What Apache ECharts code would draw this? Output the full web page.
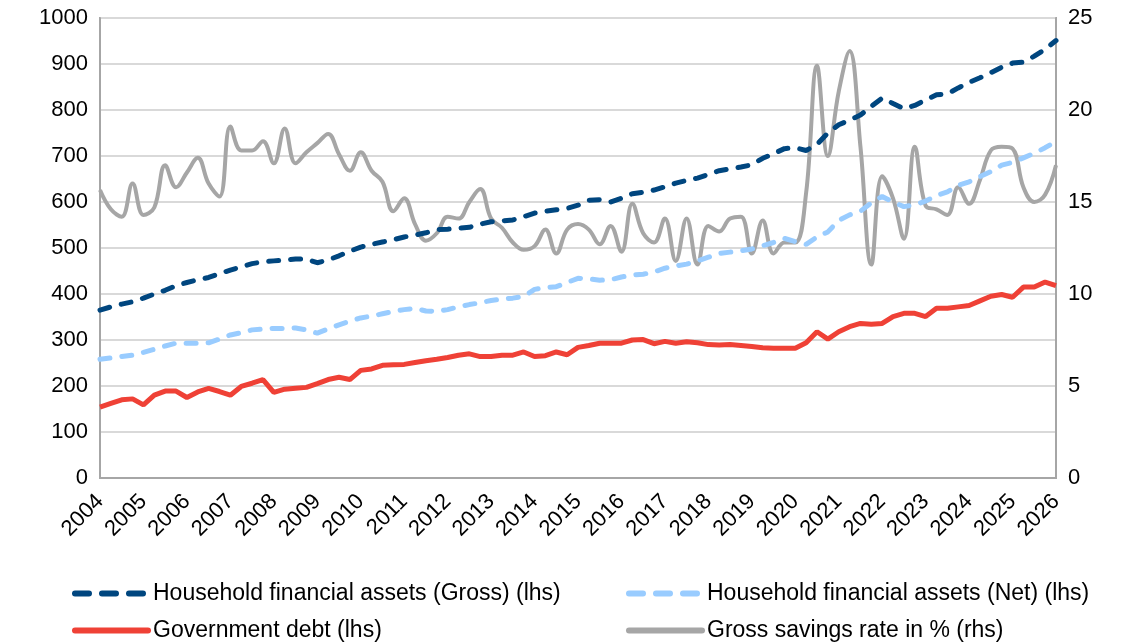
<!DOCTYPE html>
<html>
<head>
    <meta charset="UTF-8">
    <title>Household assets, government debt and savings rate</title>
    <script src="https://cdn.jsdelivr.net/npm/echarts@6/dist/echarts.min.js"></script>
    <style>
        html, body { margin: 0; padding: 0; background: #fff; }
        #chart { width: 1130px; height: 643px; }
    </style>
</head>
<body>
<div id="chart"></div>
<script>
    // years shown on the axis, data is quarterly from 2004Q1 to 2026Q1
    var years = [2004, 2005, 2006, 2007, 2008, 2009, 2010, 2011, 2012, 2013, 2014,
        2015, 2016, 2017, 2018, 2019, 2020, 2021, 2022, 2023, 2024, 2025, 2026];

    var grossAssets = [365, 372, 378, 383, 391, 400, 408, 418, 425, 431, 436, 444,
        452, 459, 466, 470, 472, 474, 476, 476, 468, 474, 483, 493,
        502, 508, 513, 518, 524, 528, 533, 540, 541, 543, 545, 552,
        557, 559, 561, 568, 576, 580, 583, 586, 593, 604, 605, 600,
        608, 618, 621, 626, 633, 641, 647, 652, 660, 668, 672, 676,
        681, 695, 705, 716, 718, 712, 725, 750, 768, 778, 789, 808,
        826, 814, 803, 810, 822, 833, 835, 848, 860, 870, 881, 893,
        902, 904, 917, 932, 951];

    var netAssets = [258, 261, 264, 267, 273, 280, 287, 293, 293, 293, 294, 302,
        311, 316, 322, 324, 325, 325, 326, 322, 315, 324, 333, 341,
        348, 352, 357, 362, 366, 369, 363, 362, 366, 372, 377, 381,
        386, 389, 391, 395, 410, 414, 416, 425, 434, 433, 430, 431,
        437, 441, 443, 448, 456, 461, 465, 472, 480, 488, 491, 494,
        498, 505, 512, 521, 514, 508, 524, 535, 560, 572, 580, 598,
        612, 600, 590, 594, 602, 614, 622, 636, 644, 655, 666, 680,
        686, 696, 706, 718, 732];

    var govDebt = [154, 162, 170, 172, 159, 180, 189, 189, 175, 187, 195, 188,
        180, 199, 206, 214, 186, 193, 195, 197, 205, 214, 219, 214,
        234, 237, 245, 246, 247, 251, 255, 258, 262, 267, 270, 264,
        264, 267, 267, 274, 264, 266, 274, 268, 284, 288, 293, 293,
        293, 300, 301, 292, 297, 293, 296, 294, 290, 289, 290, 288,
        286, 283, 282, 282, 282, 294, 318, 302, 318, 329, 336, 334,
        336, 351, 358, 358, 351, 369, 369, 372, 375, 385, 395, 399,
        393, 415, 415, 426, 418];

    var savingsRate = [15.65, 14.6, 14.2, 16.0, 14.3, 14.7, 17.0, 15.8, 16.6, 17.4, 16.0, 15.3,
        19.1, 17.8, 17.8, 18.3, 17.1, 19.0, 17.1, 17.7, 18.2, 18.7, 17.6, 16.7,
        17.7, 16.7, 16.1, 14.5, 15.2, 13.8, 12.9, 13.3, 14.2, 14.1, 15.0, 15.7,
        14.1, 13.6, 12.8, 12.4, 12.6, 13.5, 12.2, 13.5, 13.8, 13.5, 12.7, 13.7,
        12.3, 14.9, 13.3, 12.8, 14.1, 11.8, 14.1, 11.6, 13.7, 13.4, 14.1, 14.2,
        12.2, 14.0, 12.2, 12.8, 12.8, 15.5, 22.4, 17.5, 21.0, 23.2, 18.0, 11.6,
        16.4, 15.2, 13.0, 18.0, 14.8, 14.6, 14.3, 15.8, 14.9, 16.2, 17.8, 18.0,
        17.9, 15.8, 15.0, 15.4, 17.0];

    var quarters = [];
    years.forEach(function (y) {
        for (var q = 1; q <= 4; q++) {
            if (y === 2026 && q > 1) break;
            quarters.push(y + 'Q' + q);
        }
    });

    var font = 'Liberation Sans, Arial, sans-serif';
    var chart = echarts.init(document.getElementById('chart'));

    // one legend per entry so the 2x2 layout is fixed
    function legendItem(name, left, top, dashed) {
        return {
            left: left, top: top, padding: 0,
            itemWidth: 73, itemHeight: 20, itemGap: 0,
            itemStyle: { opacity: 0 },
            lineStyle: dashed ? { width: 6, type: [14, 13], cap: 'round' } : { width: 6, cap: 'round' },
            textStyle: { fontFamily: font, fontSize: 23, color: '#000' },
            data: [name]
        };
    }

    var option = {
        backgroundColor: '#fff',
        animation: false,
        grid: {
            left: 100, right: 74, top: 18, bottom: 165,
            show: true, borderColor: '#A6A6A6', borderWidth: 2
        },
        legend: [
            legendItem('Household financial assets (Gross) (lhs)', 72, 582, true),
            legendItem('Government debt (lhs)', 72, 619, false),
            legendItem('Household financial assets (Net) (lhs)', 626, 582, true),
            legendItem('Gross savings rate in % (rhs)', 626, 619, false)
        ],
        xAxis: {
            type: 'category',
            data: quarters,
            boundaryGap: false,
            axisLine: { lineStyle: { color: '#A6A6A6', width: 2 } },
            axisTick: { show: false },
            axisLabel: {
                interval: function (index) { return index % 4 === 0; },
                formatter: function (v) { return v.slice(0, 4); },
                rotate: 45,
                margin: 20,
                fontFamily: font, fontSize: 22, color: '#000'
            },
            splitLine: { show: false }
        },
        yAxis: [{
            type: 'value', min: 0, max: 1000, interval: 100,
            axisLine: { show: true, lineStyle: { color: '#A6A6A6', width: 2 } },
            axisTick: { show: false },
            axisLabel: {
                margin: 12, fontFamily: font, fontSize: 22, color: '#000',
                formatter: function (v) { return String(v); }
            },
            splitLine: { lineStyle: { color: '#D9D9D9', width: 2 } }
        }, {
            type: 'value', min: 0, max: 25, interval: 5,
            axisLine: { show: true, lineStyle: { color: '#A6A6A6', width: 2 } },
            axisTick: { show: false },
            axisLabel: { margin: 12, fontFamily: font, fontSize: 22, color: '#000' },
            splitLine: { show: false }
        }],
        series: [{
            name: 'Household financial assets (Gross) (lhs)',
            type: 'line', yAxisIndex: 0, data: grossAssets,
            symbol: 'none', z: 4,
            lineStyle: { color: '#00467F', width: 5, type: [10, 12], cap: 'round' },
            itemStyle: { color: '#00467F' }
        }, {
            name: 'Household financial assets (Net) (lhs)',
            type: 'line', yAxisIndex: 0, data: netAssets,
            symbol: 'none', z: 3,
            lineStyle: { color: '#99CCFF', width: 5, type: [10, 12], cap: 'round' },
            itemStyle: { color: '#99CCFF' }
        }, {
            name: 'Government debt (lhs)',
            type: 'line', yAxisIndex: 0, data: govDebt,
            symbol: 'none', z: 3,
            lineStyle: { color: '#EF4136', width: 5 },
            itemStyle: { color: '#EF4136' }
        }, {
            name: 'Gross savings rate in % (rhs)',
            type: 'line', yAxisIndex: 1, data: savingsRate,
            symbol: 'none', smooth: 0.4, z: 2,
            lineStyle: { color: '#A6A6A6', width: 4 },
            itemStyle: { color: '#A6A6A6' }
        }]
    };

    chart.setOption(option);
</script>
</body>
</html>
